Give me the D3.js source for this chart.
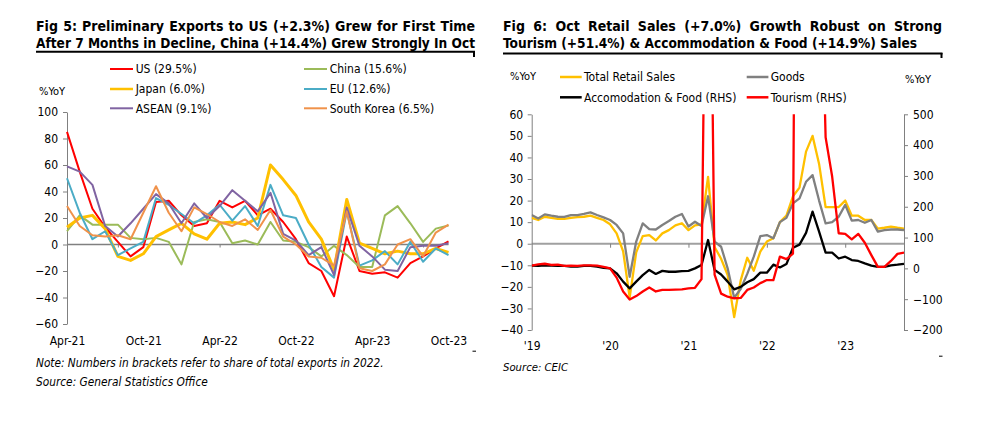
<!DOCTYPE html>
<html><head><meta charset="utf-8">
<script src="https://cdn.jsdelivr.net/npm/d3@7"></script>
<style>
body{margin:0;background:#fff}
svg{display:block}
</style></head><body>
<svg id="c" width="993" height="425"></svg>
<script>
// ---------- Fig 5 data ----------
const exportMonths = ["Apr-21","May-21","Jun-21","Jul-21","Aug-21","Sep-21","Oct-21","Nov-21","Dec-21","Jan-22","Feb-22","Mar-22","Apr-22","May-22","Jun-22","Jul-22","Aug-22","Sep-22","Oct-22","Nov-22","Dec-22","Jan-23","Feb-23","Mar-23","Apr-23","May-23","Jun-23","Jul-23","Aug-23","Sep-23","Oct-23"];
const exportTickLabels = ["Apr-21","Oct-21","Apr-22","Oct-22","Apr-23","Oct-23"];
const exportTickMarks = ["Aug-21","Apr-22","Dec-22","Aug-23"];
const exportYTicks = [-60,-40,-20,0,20,40,60,80,100];
const usExports     = [85,55,27,13,2,-9,-2,32,33,22,14,16,33,28,33,22,27,17,4,-14,-20,-39,6,-20,-22,-21,-25,-14,-9,-3,2.3];
const chinaExports  = [10,22,15,15,15,5,4,5,2,-15,17,19,17,1,3,0,17,3,2,-2,-9,-1,-8,-17,-17,22,29,16,2,12,14.4];
const japanExports  = [13,20,22,12,-9,-12,-7,6,11,16,8,4,16,17,15,20,60,49,37,17,4,-19,34,1,-3,-7,-5,-7,-7,-3,-6];
const euExports     = [50,24,4,10,-8,-3,2,35,30,23,16,22,30,18,29,14,45,22,20,0,-17,-25,25,-16,-12,-5,-15,2,-13,-3,-8];
const aseanExports  = [59,55,45,14,6,16,27,38,31,16,31,20,29,41,33,25,39,8,3,-8,-2,-23,28,-1,-9,-19,-20,-2,-1,-1,1];
const koreaExports  = [29,14,7,6,7,4,24,44,24,10,28,23,17,14,19,11,26,6,0,-9,-10,-16,25,-18,-20,-15,0,4,-9,9,15];
const exportSeriesNames = ["US (29.5%)","China (15.6%)","Japan (6.0%)","EU (12.6%)","ASEAN (9.1%)","South Korea (6.5%)"];

// ---------- Fig 6 data ----------
const retailMonths = ["Jan-19","Feb-19","Mar-19","Apr-19","May-19","Jun-19","Jul-19","Aug-19","Sep-19","Oct-19","Nov-19","Dec-19",
"Jan-20","Feb-20","Mar-20","Apr-20","May-20","Jun-20","Jul-20","Aug-20","Sep-20","Oct-20","Nov-20","Dec-20",
"Jan-21","Feb-21","Mar-21","Apr-21","May-21","Jun-21","Jul-21","Aug-21","Sep-21","Oct-21","Nov-21","Dec-21",
"Jan-22","Feb-22","Mar-22","Apr-22","May-22","Jun-22","Jul-22","Aug-22","Sep-22","Oct-22","Nov-22","Dec-22",
"Jan-23","Feb-23","Mar-23","Apr-23","May-23","Jun-23","Jul-23","Aug-23","Sep-23","Oct-23"];
const retailTickMonths = ["Jan-19","Jan-20","Jan-21","Jan-22","Jan-23"];
const retailTickLabels = ["'19","'20","'21","'22","'23"];
const retailLeftTicks = [-40,-30,-20,-10,0,10,20,30,40,50,60];
const retailRightTicks = [-200,-100,0,100,200,300,400,500];
const totalRetail = [12,11,12.5,12,11.5,11.5,12,12.3,12.5,13,12,11,
  9,4.8,-3.5,-25,-4,3.5,4,1.5,4.8,6.3,8.5,9.5,
  6.3,8.5,9,31,-1.5,-7,-14.5,-34,-17,-6.5,-12.5,-3.7,
  1,2.5,10,13,22,26,42.7,50,37,17,17,17,
  20,13,13,11,11,7,7.4,7.9,7.4,7.0];
const goodsSales = [13.3,11.7,13.6,13,12.5,12.4,13.3,13.3,13.8,14.5,13.3,12.2,
  11,8.7,4.8,-15.3,1,9.4,6.8,6.6,8.7,10.5,12.5,13.8,
  8,10.2,8.2,22,1,-1.4,-11.4,-25,-21,-14,-6,3.5,
  4,2.5,10,12,18.7,21,28.7,31.8,20,9.4,10,12.5,
  18,10.7,11,9.7,11,5.6,6.3,6.6,6.6,6.3];
const accomFood = [9,8,10,9,8,8,6,6,8,8,6,2,
  0,-16,-43,-65,-43,-22,-5,-18,-8,-11,-11,-9,
  -8,0,11,92,-5,-20,-43,-68,-60,-45,-35,-14,
  -14,12,3,14,67,77,115,184,119,51,51,32,
  38,27,24,16,9,5,5,10,12,14.9];
const tourism = [9,13,15,11,12,8,9,8,10,10,9,5,
  0,-30,-75,-101,-90,-75,-62,-75,-70,-70,-69,-68,
  -65,-63,-35,1800,-20,-82,-92,-97,-96,-70,-62,-48,
  -38,-38,38,30,48,3500,3500,3000,1250,425,298,114,
  112,94,112,83,43,5,5,24,47,51.4];
const retailSeriesNames = ["Total Retail Sales","Goods","Accomodation & Food (RHS)","Tourism (RHS)"];

// ---------- drawing ----------
const FONT = '"DejaVu Sans Condensed","DejaVu Sans",sans-serif';
const svg = d3.select("#c");
svg.append("rect").attr("width",993).attr("height",425).attr("fill","#fff");

function fit(sel, target){
  const w = sel.node().getComputedTextLength();
  if (w > target) sel.attr("textLength", target).attr("lengthAdjust","spacingAndGlyphs");
  else {
    const n = (sel.text().match(/ /g)||[]).length;
    if (n) sel.style("word-spacing", ((target - w)/n) + "px");
  }
}
function fitSize(sel, target, base){
  const w = sel.node().getComputedTextLength();
  sel.attr("font-size", base * target / w);
}
function txt(x, y, s, opt={}){
  const t = svg.append("text").attr("x",x).attr("y",y).text(s)
    .attr("font-family",FONT).attr("font-size",opt.size||12)
    .attr("fill",opt.fill||"#000");
  if (opt.bold) t.attr("font-weight","bold");
  if (opt.italic) t.attr("font-style","italic");
  if (opt.anchor) t.attr("text-anchor",opt.anchor);
  if (opt.width) fit(t, opt.width);
  if (opt.sizeWidth) fitSize(t, opt.sizeWidth, opt.size||12);
  return t;
}

// Titles
txt(36, 31, "Fig 5: Preliminary Exports to US (+2.3%) Grew for First Time", {size:14,bold:true,width:439});
txt(36, 47.7, "After 7 Months in Decline, China (+14.4%) Grew Strongly In Oct", {size:14,bold:true,width:439});
svg.append("line").attr("x1",36).attr("x2",475).attr("y1",51.8).attr("y2",51.8).attr("stroke","#000").attr("stroke-width",2);
svg.append("rect").attr("x",473).attr("y",52).attr("width",2).attr("height",5).attr("fill","#000");

txt(503, 31, "Fig 6: Oct Retail Sales (+7.0%) Growth Robust on Strong", {size:14,bold:true,width:439});
txt(503, 48.3, "Tourism (+51.4%) & Accommodation & Food (+14.9%) Sales", {size:14,bold:true,width:414});
svg.append("line").attr("x1",503).attr("x2",942.5).attr("y1",53.4).attr("y2",53.4).attr("stroke","#000").attr("stroke-width",2);
svg.append("rect").attr("x",940.5).attr("y",53).attr("width",2).attr("height",5).attr("fill","#000");

// ================= Fig 5 =================
const xE = d3.scalePoint().domain(exportMonths).range([67, 448.5]);
const yE = d3.scaleLinear().domain([-60,100]).range([324, 112]);
const exportColors = ["#ff0000","#9bbb59","#ffc000","#4bacc6","#8064a2","#f0924a"];
const exportWidths = [2,2,3,2,2,2];
const exportData = [usExports, chinaExports, japanExports, euExports, aseanExports, koreaExports];

function styleAxis(g){
  g.attr("font-family",FONT).attr("font-size",12);
  g.select(".domain").attr("stroke","#808080");
  g.selectAll(".tick line").attr("stroke","#808080");
  g.selectAll(".tick text").attr("fill","#000");
}

svg.append("line").attr("x1",67).attr("x2",448.5).attr("y1",yE(0)).attr("y2",yE(0))
  .attr("stroke","#808080").attr("stroke-width",1.3);
svg.append("g").attr("transform","translate(67,0)")
  .call(d3.axisLeft(yE).tickValues(exportYTicks).tickSize(4).tickSizeOuter(0).tickPadding(5))
  .call(styleAxis);
svg.append("g").attr("transform",`translate(0,${yE(0)})`)
  .call(d3.axisBottom(xE).tickValues(exportTickMarks).tickSize(3).tickSizeOuter(0).tickFormat(""))
  .call(g=>{g.select(".domain").remove(); g.selectAll(".tick line").attr("stroke","#808080");});
svg.append("g").attr("transform","translate(0,330)")
  .call(d3.axisBottom(xE).tickValues(exportTickLabels).tickSize(0).tickPadding(6))
  .call(styleAxis).call(g=>g.select(".domain").remove());

const lineE = d3.line().x((d,i)=>xE(exportMonths[i])).y(d=>yE(d));
exportData.forEach((s,k)=>{
  svg.append("path").datum(s).attr("d",lineE).attr("fill","none")
    .attr("stroke",exportColors[k]).attr("stroke-width",exportWidths[k]).attr("stroke-linejoin","round");
});

txt(39, 94.5, "%YoY", {size:11});
// legend
const legE = [[110,69],[304,69],[110,89],[304,89],[110,108.3],[304,108.3]];
exportSeriesNames.forEach((n,k)=>{
  const [lx,ly] = legE[k];
  svg.append("line").attr("x1",lx).attr("x2",lx+23).attr("y1",ly).attr("y2",ly)
    .attr("stroke",exportColors[k]).attr("stroke-width",k===2?2.5:2);
  txt(lx+25.7, ly+4.3, n, {size:12});
});
txt(36, 367, "Note: Numbers in brackets refer to share of total exports in 2022.", {size:11,italic:true,sizeWidth:348});
txt(36, 385.5, "Source: General Statistics Office", {size:11,italic:true,sizeWidth:172});
svg.append("line").attr("x1",472.5).attr("x2",476).attr("y1",351.2).attr("y2",351.2).attr("stroke","#000").attr("stroke-width",1);

// ================= Fig 6 =================
const xR = d3.scalePoint().domain(retailMonths).range([531.7, 904]);
const yRL = d3.scaleLinear().domain([-40,60]).range([330, 114.3]);
const yRR = d3.scaleLinear().domain([-200,500]).range([330, 114.3]);

svg.append("defs").append("clipPath").attr("id","clipR").append("rect")
  .attr("x",531.7).attr("y",114.3).attr("width",904-531.7).attr("height",330-114.3);

svg.append("line").attr("x1",531.7).attr("x2",904).attr("y1",yRL(0)).attr("y2",yRL(0))
  .attr("stroke","#a0a0a0").attr("stroke-width",2);
svg.append("g").attr("transform","translate(531.7,0)")
  .call(d3.axisLeft(yRL).tickValues(retailLeftTicks).tickSize(4).tickSizeOuter(0).tickPadding(4.5))
  .call(styleAxis);
svg.append("g").attr("transform","translate(904,0)")
  .call(d3.axisRight(yRR).tickValues(retailRightTicks).tickSize(4).tickSizeOuter(0).tickPadding(5))
  .call(styleAxis);
svg.append("g").attr("transform",`translate(0,${yRL(0)})`)
  .call(d3.axisBottom(xR).tickValues(retailTickMonths.slice(1)).tickSize(4).tickSizeOuter(0).tickFormat(""))
  .call(g=>{g.select(".domain").remove(); g.selectAll(".tick line").attr("stroke","#808080");});
svg.append("g").attr("transform","translate(0,335)")
  .call(d3.axisBottom(xR).tickValues(retailTickMonths).tickSize(0).tickPadding(6)
     .tickFormat((d,i)=>retailTickLabels[i]))
  .call(styleAxis).call(g=>g.select(".domain").remove());

const retailColors = ["#ffc000","#808080","#000000","#ff0000"];
const retailSeries = [[totalRetail,yRL],[goodsSales,yRL],[accomFood,yRR],[tourism,yRR]];
const plotR = svg.append("g").attr("clip-path","url(#clipR)");
retailSeries.forEach(([s,ys],k)=>{
  const ln = d3.line().x((d,i)=>xR(retailMonths[i])).y(d=>ys(d));
  plotR.append("path").datum(s).attr("d",ln).attr("fill","none")
    .attr("stroke",retailColors[k]).attr("stroke-width",2.3).attr("stroke-linejoin","round");
});

txt(510, 79.5, "%YoY", {size:11});
txt(905, 83, "%YoY", {size:11});
const legR = [[560,77],[746.7,77],[560,97.3],[746.7,97.3]];
retailSeriesNames.forEach((n,k)=>{
  const [lx,ly] = legR[k];
  svg.append("line").attr("x1",lx).attr("x2",lx+21.7).attr("y1",ly).attr("y2",ly)
    .attr("stroke",retailColors[k]).attr("stroke-width",2.5);
  txt(lx+24, ly+4.3, n, {size:12});
});
txt(503, 370.5, "Source: CEIC", {size:11,italic:true,sizeWidth:65});
svg.append("line").attr("x1",939).attr("x2",942.5).attr("y1",356.2).attr("y2",356.2).attr("stroke","#000").attr("stroke-width",1);
</script>
</body></html>
